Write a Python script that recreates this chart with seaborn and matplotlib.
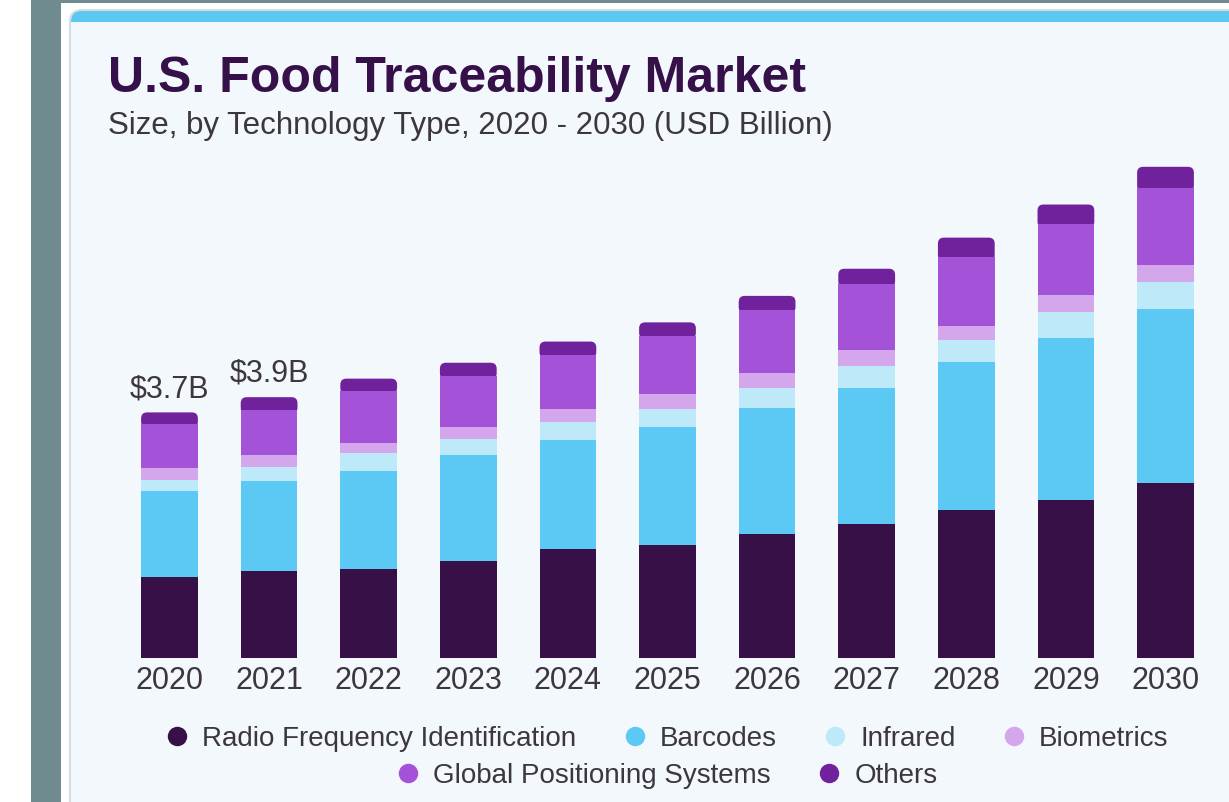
import pandas as pd
import matplotlib.pyplot as plt
import seaborn as sns
from matplotlib.patches import Rectangle, FancyBboxPatch
from matplotlib.lines import Line2D

years = ['2020', '2021', '2022', '2023', '2024', '2025', '2026', '2027', '2028', '2029', '2030']
rfid = [1.22, 1.32, 1.35, 1.47, 1.64, 1.71, 1.88, 2.03, 2.23, 2.38, 2.64]
barcodes = [1.30, 1.36, 1.48, 1.60, 1.66, 1.78, 1.90, 2.05, 2.24, 2.46, 2.63]
infrared = [0.17, 0.20, 0.27, 0.24, 0.26, 0.27, 0.30, 0.33, 0.33, 0.38, 0.41]
biometrics = [0.18, 0.18, 0.15, 0.18, 0.20, 0.23, 0.23, 0.24, 0.21, 0.26, 0.26]
gps = [0.66, 0.68, 0.79, 0.77, 0.82, 0.88, 0.95, 1.00, 1.04, 1.07, 1.16]
others = [0.18, 0.20, 0.18, 0.20, 0.20, 0.20, 0.21, 0.23, 0.30, 0.30, 0.32]

segments = ['Radio Frequency Identification', 'Barcodes', 'Infrared', 'Biometrics',
            'Global Positioning Systems', 'Others']
colors = ['#371047', '#5cc9f5', '#bde9f9', '#d4a7ec', '#a452d7', '#70219c']

label_years = ['2020', '2021']
label_texts = [r'\$3.7B', r'\$3.9B']

df = pd.DataFrame({'year': years})
for name, vals in zip(segments, [rfid, barcodes, infrared, biometrics, gps, others]):
    df[name] = vals
cum = df[segments].cumsum(axis=1)

sns.set_theme(style='white')
plt.rcParams['font.family'] = ['Liberation Sans', 'DejaVu Sans']

W, H = 1229, 802
fig = plt.figure(figsize=(W / 100, H / 100), dpi=100, facecolor='white')


def px(x, y):
    # pixel position from top-left -> inches from bottom-left
    return x / 100, (H - y) / 100


# page decoration
fig.patches.append(Rectangle(px(31, H), 0.30, H / 100, transform=fig.dpi_scale_trans,
                             facecolor='#6f8b8f', edgecolor='none', zorder=-10))
fig.patches.append(Rectangle(px(31, 3), 12.5, 0.03, transform=fig.dpi_scale_trans,
                             facecolor='#6f8b8f', edgecolor='none', zorder=-10))
fig.patches.append(FancyBboxPatch(px(70, H + 50), 12.0, (H + 50 - 10) / 100,
                                  boxstyle='round,pad=0,rounding_size=0.12',
                                  transform=fig.dpi_scale_trans,
                                  facecolor='#5bc8f0', edgecolor='#d6dde2', lw=1.5, zorder=-9))
fig.patches.append(Rectangle(px(71, H + 50), 11.9, (H + 50 - 22) / 100,
                             transform=fig.dpi_scale_trans,
                             facecolor='#f3f8fc', edgecolor='none', zorder=-8))

# axes placed so that y=0 sits at pixel 658 and 1 unit = 66.2 px
ymax = 7.6
ax = fig.add_axes([119.7 / W, (H - 658) / H, 1095.6 / W, ymax * 66.2 / H])
ax.set_facecolor('none')

below_top = cum[segments[-2]]
for k in range(len(segments) - 1, -1, -1):
    sns.barplot(x=df['year'], y=cum[segments[k]], color=colors[k], width=0.57,
                saturation=1, linewidth=0, errorbar=None, ax=ax)
    if k == len(segments) - 1:
        # rounded tops on the top segment; its lower corners hide under the next segment
        for i, bar in enumerate(list(ax.patches)):
            bar.set_visible(False)
            y0 = below_top[i] - 0.05
            ax.add_patch(FancyBboxPatch((bar.get_x(), y0), bar.get_width(),
                                        bar.get_height() - y0,
                                        boxstyle='round,pad=0,rounding_size=0.06',
                                        mutation_aspect=99.6 / 66.2,
                                        facecolor=colors[k], edgecolor='none'))

ax.set_ylim(0, ymax)
ax.set_xlim(-0.5, len(years) - 0.5)
ax.set_xlabel('')
ax.set_ylabel('')
ax.set_yticks([])
sns.despine(ax=ax, left=True, bottom=True)
ax.tick_params(axis='x', length=0, pad=6, labelsize=22, labelcolor='#3b3640')

totals = cum[segments[-1]]
for yr, txt in zip(label_years, label_texts):
    i = years.index(yr)
    ax.annotate(txt, (i, totals[i]), xytext=(0, 11), textcoords='offset points',
                ha='center', va='baseline', fontsize=22, color='#3b3640')

# titles
fig.text(108 / W, 1 - 92 / H, 'U.S. Food Traceability Market', fontsize=36,
         fontweight='bold', color='#351049', va='baseline', ha='left')
fig.text(108 / W, 1 - 134 / H, 'Size, by Technology Type, 2020 - 2030 (USD Billion)',
         fontsize=22.5, color='#3b3640', va='baseline', ha='left')

handles = [Line2D([], [], marker='o', ls='', markersize=14, markerfacecolor=c,
                  markeredgewidth=0) for c in colors]
leg_kw = dict(loc='center', frameon=False, fontsize=20, handlelength=1,
              handletextpad=0.4, columnspacing=1.6, labelcolor='#3b3640')
leg1 = fig.legend(handles[:4], segments[:4], ncol=4,
                  bbox_to_anchor=(666 / W, 1 - 739 / H), **leg_kw)
leg2 = fig.legend(handles[4:], segments[4:], ncol=2,
                  bbox_to_anchor=(666 / W, 1 - 776 / H), **leg_kw)

plt.savefig('out.png', dpi=100)
